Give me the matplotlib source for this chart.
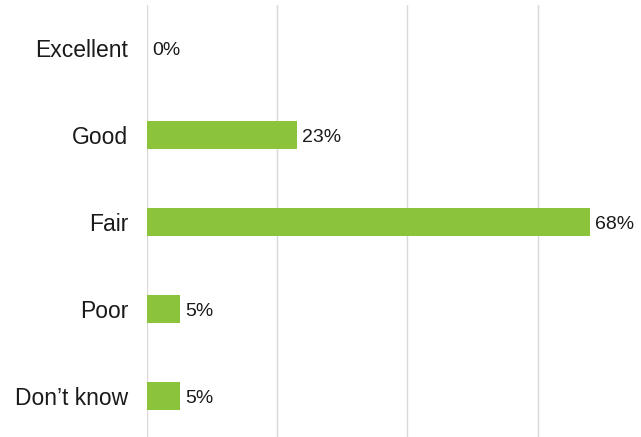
import numpy as np
import matplotlib.pyplot as plt

plt.rcParams['font.family'] = ['Liberation Sans', 'DejaVu Sans']

## Data

categories = ['Excellent', 'Good', 'Fair', 'Poor', 'Don\u2019t know']
values = [0, 23, 68, 5, 5]
value_labels = ['0%', '23%', '68%', '5%', '5%']

## Figure

W, H = 641, 437
fig = plt.figure(figsize=(W / 100, H / 100), dpi=100)
ax = fig.add_axes([147 / W, -2.5 / H, (W - 147) / W, 435 / H])

y = np.arange(len(categories))
ax.barh(y, values, height=0.33, color='#8BC33A', zorder=3)

ax.set_xlim(0, 494 / 6.51)
ax.set_ylim(len(categories) - 0.5, -0.5)

ax.set_xticks([0, 20, 40, 60])
ax.set_xticklabels([])
ax.grid(axis='x', color='#D9D9D9', lw=1.0, zorder=0)
ax.tick_params(length=0)
ax.set_yticks(y)
ax.set_yticklabels(categories, fontsize=16.5, color='#1a1a1a')
ax.tick_params(axis='y', pad=13.5)
for s in ax.spines.values():
    s.set_visible(False)

for yi, v, lab in zip(y, values, value_labels):
    ax.annotate(lab, (v, yi), xytext=(4, -1.5), textcoords='offset points',
                va='center', ha='left', fontsize=14, color='#1a1a1a',
                annotation_clip=False)

fig.savefig('out.png', dpi=100)
